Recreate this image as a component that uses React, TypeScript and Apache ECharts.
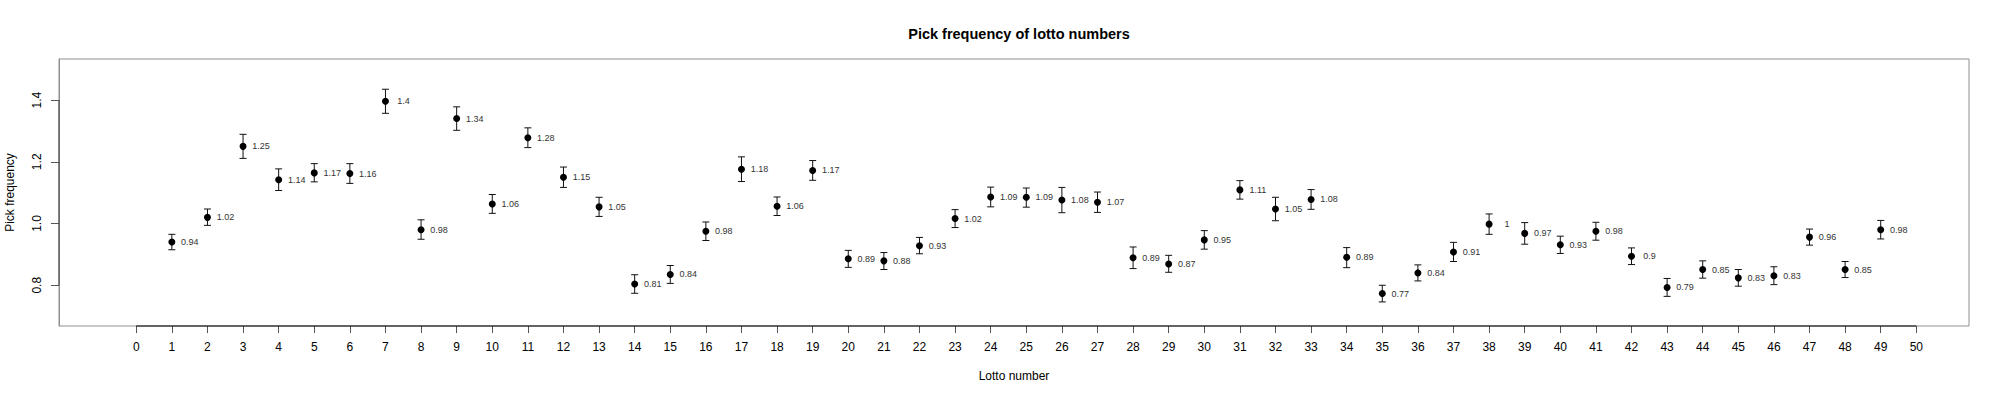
import React, { useEffect, useRef } from "react";
import * as echarts from "echarts";

const numbers = [1,2,3,4,5,6,7,8,9,10,11,12,13,14,15,16,17,18,19,20,21,22,23,24,25,26,27,28,29,30,31,32,33,34,35,36,37,38,39,40,41,42,43,44,45,46,47,48,49];
const freq = [0.94,1.02,1.25,1.142,1.164,1.162,1.396,0.98,1.34,1.063,1.278,1.15,1.054,0.804,0.835,0.975,1.176,1.056,1.172,0.886,0.879,0.928,1.016,1.086,1.085,1.076,1.069,0.889,0.869,0.947,1.109,1.047,1.078,0.891,0.773,0.84,0.908,0.998,0.968,0.931,0.975,0.894,0.793,0.851,0.824,0.831,0.956,0.851,0.98];
const lower = [0.915,0.994,1.211,1.107,1.135,1.13,1.357,0.949,1.302,1.033,1.246,1.117,1.023,0.774,0.806,0.945,1.136,1.026,1.14,0.858,0.851,0.902,0.987,1.054,1.053,1.035,1.036,0.854,0.842,0.917,1.079,1.009,1.046,0.857,0.746,0.814,0.877,0.965,0.933,0.903,0.946,0.867,0.764,0.823,0.797,0.802,0.93,0.825,0.95];
const upper = [0.965,1.047,1.289,1.177,1.194,1.194,1.435,1.012,1.378,1.094,1.31,1.183,1.085,0.834,0.864,1.005,1.216,1.086,1.204,0.913,0.906,0.955,1.045,1.118,1.115,1.117,1.102,0.924,0.897,0.977,1.139,1.085,1.11,0.922,0.8,0.866,0.939,1.031,1.003,0.959,1.004,0.921,0.822,0.879,0.851,0.86,0.982,0.877,1.01];
const labels = ["0.94","1.02","1.25","1.14","1.17","1.16","1.4","0.98","1.34","1.06","1.28","1.15","1.05","0.81","0.84","0.98","1.18","1.06","1.17","0.89","0.88","0.93","1.02","1.09","1.09","1.08","1.07","0.89","0.87","0.95","1.11","1.05","1.08","0.89","0.77","0.84","0.91","1","0.97","0.93","0.98","0.9","0.79","0.85","0.83","0.83","0.96","0.85","0.98"];
const xTicks = [0,1,2,3,4,5,6,7,8,9,10,11,12,13,14,15,16,17,18,19,20,21,22,23,24,25,26,27,28,29,30,31,32,33,34,35,36,37,38,39,40,41,42,43,44,45,46,47,48,49,50];
const yTicks = [0.8, 1.0, 1.2, 1.4];
const xMin = -2.17, xMax = 51.48;
const yMin = 0.668, yMax = 1.533;

const FONT = "Liberation Sans, Arial, sans-serif";

export default function App() {
  const ref = useRef<HTMLDivElement>(null);
  useEffect(() => {
    if (!ref.current) return;
    const chart = echarts.init(ref.current, null, { renderer: "svg" });
    const points = numbers.map((n, i) => ({ value: [n, freq[i]], label: { formatter: labels[i] } }));
    const bars = numbers.map((n, i) => [n, lower[i], upper[i]]);
    chart.setOption({
      animation: false,
      backgroundColor: "#ffffff",
      title: {
        text: "Pick frequency of lotto numbers",
        left: 1014,
        textAlign: "center",
        top: 21,
        textStyle: { fontFamily: FONT, fontSize: 14.5, fontWeight: "bold", color: "#000" },
      },
      grid: {
        left: 59, right: 31, top: 59, bottom: 74,
        containLabel: false, outerBoundsMode: "none",
        show: true, borderColor: "#8f8f8f", borderWidth: 1, backgroundColor: "transparent",
      },
      xAxis: {
        type: "value", min: xMin, max: xMax,
        name: "Lotto number", nameLocation: "middle", nameGap: 44,
        nameTextStyle: { fontFamily: FONT, fontSize: 12, color: "#000" },
        axisLine: { show: false, onZero: false },
        splitLine: { show: false },
        axisTick: { show: true, length: 7, customValues: xTicks, lineStyle: { color: "#555" } },
        axisLabel: { customValues: xTicks, margin: 15, fontFamily: FONT, fontSize: 12, color: "#000", formatter: (v: number) => String(v) },
      },
      yAxis: {
        type: "value", min: yMin, max: yMax,
        name: "Pick frequency", nameLocation: "middle", nameGap: 43, nameRotate: 90,
        nameTextStyle: { fontFamily: FONT, fontSize: 12, color: "#000" },
        axisLine: { show: true, onZero: false, lineStyle: { color: "#8f8f8f", width: 1 } },
        splitLine: { show: false },
        axisTick: { show: true, length: 8, customValues: yTicks, lineStyle: { color: "#555", width: 1 } },
        axisLabel: { customValues: yTicks, rotate: 90, margin: 16, fontFamily: FONT, fontSize: 12, color: "#000", formatter: (v: number) => v.toFixed(1) },
      },
      series: [
        {
          type: "line",
          data: [[xTicks[0], yMin], [xTicks[xTicks.length - 1], yMin]],
          symbol: "none", clip: false, silent: true,
          lineStyle: { color: "#000", width: 1 },
        },
        {
          type: "line",
          data: [[xMin, yTicks[0]], [xMin, yTicks[yTicks.length - 1]]],
          symbol: "none", clip: false, silent: true,
          lineStyle: { color: "#444", width: 1 },
        },
        {
          type: "custom",
          data: bars,
          clip: false,
          renderItem: (params: any, api: any) => {
            const x = api.value(0);
            const lo = api.coord([x, api.value(1)]);
            const hi = api.coord([x, api.value(2)]);
            const w = 3.5;
            const style = { stroke: "#111", lineWidth: 1 };
            return {
              type: "group",
              children: [
                { type: "line", shape: { x1: lo[0], y1: lo[1], x2: hi[0], y2: hi[1] }, style },
                { type: "line", shape: { x1: lo[0] - w, y1: lo[1], x2: lo[0] + w, y2: lo[1] }, style },
                { type: "line", shape: { x1: hi[0] - w, y1: hi[1], x2: hi[0] + w, y2: hi[1] }, style },
              ],
            };
          },
        },
        {
          type: "scatter",
          data: points,
          symbol: "circle",
          symbolSize: 7,
          itemStyle: { color: "#000", opacity: 1 },
          label: {
            show: true, position: "inside", offset: [18, 0],
            fontFamily: FONT, fontSize: 9, color: "#333",
          },
        },
      ],
    });
    return () => chart.dispose();
  }, []);
  return <div ref={ref} style={{ position: "fixed", left: 0, top: 0, width: 2000, height: 400 }} />;
}
